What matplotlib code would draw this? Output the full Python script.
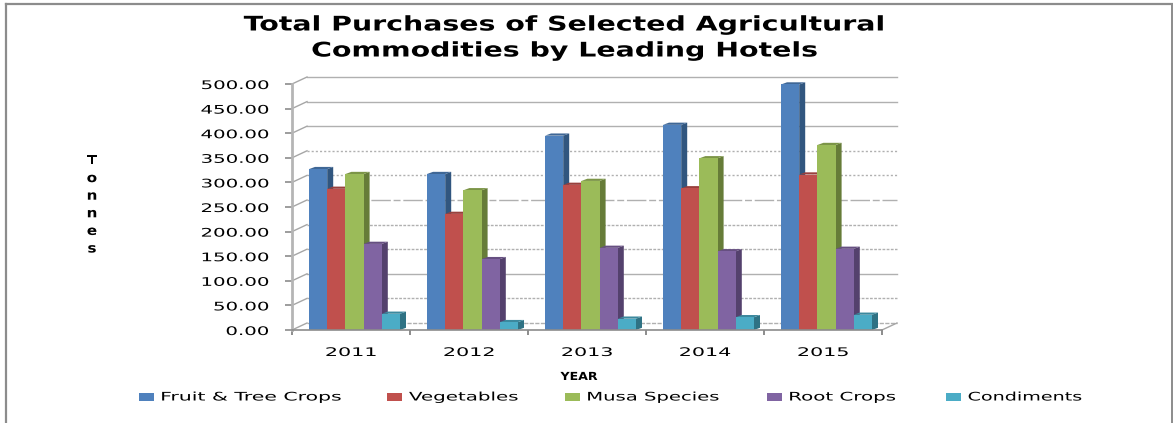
import numpy as np
import matplotlib
matplotlib.use("Agg")
import matplotlib.pyplot as plt
from matplotlib.patches import Polygon, Rectangle
from matplotlib.lines import Line2D
from matplotlib.patheffects import AbstractPathEffect
from matplotlib.transforms import Affine2D

W, H = 1173, 423

years = ["2011", "2012", "2013", "2014", "2015"]
series_names = ["Fruit & Tree Crops", "Vegetables", "Musa Species", "Root Crops", "Condiments"]
fruit = [327, 317, 395, 417, 499]
vegetables = [287, 236, 295, 288, 316]
musa = [317, 284, 303, 349, 376]
root = [175, 144, 167, 160, 165]
condiments = [33, 16, 23, 26, 31]
yticks = [0, 50, 100, 150, 200, 250, 300, 350, 400, 450, 500]

front = ["#4f81bd", "#c0504d", "#9bbb59", "#8064a2", "#4bacc6"]
side = ["#31567f", "#7f3331", "#667c38", "#54416d", "#2f7284"]
top = ["#3f6796", "#99403d", "#7c9547", "#664f81", "#3c899e"]

# grid styles as they came out of the scaled picture
grid_styles = {0: (0, (3, 1)), 50: (0, (2, 1)), 100: "-", 150: (0, (2, 1)), 200: (0, (2, 1)),
               250: (0, (14, 2, 5, 2)), 300: (0, (1.5, 1.5)), 350: (0, (1.5, 1.5)),
               400: "-", 450: "-", 500: "-"}


# the original picture was pasted in stretched sideways, text included
class Stretch(AbstractPathEffect):
    def __init__(self, sx, anchor="center"):
        super().__init__()
        self.sx = sx
        self.anchor = anchor

    def draw_path(self, renderer, gc, tpath, affine, rgbFace=None):
        box = tpath.transformed(affine).get_extents()
        px = {"left": box.x0, "right": box.x1, "center": (box.x0 + box.x1) / 2}[self.anchor]
        t = affine + Affine2D().translate(-px, 0).scale(self.sx, 1).translate(px, 0)
        renderer.draw_path(gc, tpath, t, rgbFace)


fig = plt.figure(figsize=(W / 100, H / 100), dpi=100, facecolor="white")
ax = fig.add_axes([292 / W, 1 - 330 / H, 590 / W, 246 / H])
ax.set_xlim(0, 5)
ax.set_ylim(0, 500)
ax.patch.set_alpha(0)

# depth of the 3d look, in data units
dx_wall = 15 / 118
dy_wall = 7 * 500 / 246
dx_bar = 6 / 118
dy_bar = 2.2 * 500 / 246
bar_w = 18.2 / 118
y_base = 0

for v in yticks:
    ax.plot([dx_wall, 5 + dx_wall], [v + dy_wall, v + dy_wall], color="#b0b0b0", lw=1.0,
            ls=grid_styles[v], clip_on=False, zorder=1)
    ax.plot([0, dx_wall], [v, v + dy_wall], color="#a6a6a6", lw=1.0, clip_on=False, zorder=1)
ax.plot([5, 5 + dx_wall], [0, dy_wall], color="#a6a6a6", lw=1.0, clip_on=False, zorder=1)

all_series = [fruit, vegetables, musa, root, condiments]
for s, vals in enumerate(all_series):
    x = np.arange(5) + 17 / 118 + s * bar_w
    ax.bar(x, np.array(vals) - y_base, width=bar_w, bottom=y_base, align="edge",
           color=front[s], zorder=3 + s * 0.1, clip_on=False)
    for xi, v in zip(x, vals):
        ax.add_patch(Polygon([(xi + bar_w, y_base), (xi + bar_w + dx_bar, y_base + dy_bar),
                              (xi + bar_w + dx_bar, v + dy_bar), (xi + bar_w, v)],
                             color=side[s], lw=0, zorder=2.9 + s * 0.1, clip_on=False))
        ax.add_patch(Polygon([(xi, v), (xi + dx_bar, v + dy_bar),
                              (xi + bar_w + dx_bar, v + dy_bar), (xi + bar_w, v)],
                             color=top[s], lw=0, zorder=2.9 + s * 0.1, clip_on=False))

for sp in ["top", "right"]:
    ax.spines[sp].set_visible(False)
ax.spines["left"].set_color("#b5b5b5")
ax.spines["left"].set_linewidth(2.0)
ax.spines["bottom"].set_color("#8c8c8c")
ax.spines["bottom"].set_linewidth(1.2)
ax.spines["bottom"].set_zorder(5)

ax.set_yticks(yticks)
ax.set_yticklabels([f"{v:.2f}" for v in yticks], fontsize=8.5, color="black")
ax.set_xticks(range(6))
ax.set_xticklabels([])
ax.set_xticks(np.arange(5) + 0.5, minor=True)
ax.set_xticklabels(years, minor=True, fontsize=8.5, color="black")
ax.tick_params(axis="x", which="minor", length=0, pad=11.5)
ax.tick_params(axis="x", which="major", length=3.5, width=1.4, color="#8c8c8c")
ax.tick_params(axis="y", length=5, width=1.2, color="#8c8c8c", pad=12)
for lab in ax.get_yticklabels():
    lab.set_path_effects([Stretch(1.67, "right")])
for lab in ax.get_xticklabels(minor=True):
    lab.set_path_effects([Stretch(1.75)])

for txt, yp in [("Total Purchases of Selected Agricultural", 25), ("Commodities by Leading Hotels", 51)]:
    fig.text(565 / W, 1 - yp / H, txt, ha="center", va="center", fontsize=14.5, fontweight="bold",
             color="black", path_effects=[Stretch(1.41)])

fig.text(92 / W, 1 - 205 / H, "T\no\nn\nn\ne\ns", ha="center", va="center", fontsize=9.5,
         fontweight="bold", linespacing=1.46, path_effects=[Stretch(1.15)])
fig.text(579 / W, 1 - 377 / H, "YEAR", ha="center", va="center", fontsize=8, fontweight="bold",
         path_effects=[Stretch(1.13)])

legend_x = [139, 387, 565, 767, 946]
legend_sx = [1.73, 1.68, 1.66, 1.68, 1.62]
for name, lx, c, sx in zip(series_names, legend_x, front, legend_sx):
    fig.add_artist(Rectangle((lx / W, 1 - 401 / H), 15 / W, 8 / H, color=c, lw=0, transform=fig.transFigure))
    fig.text((lx + 22) / W, 1 - 397 / H, name, ha="left", va="center", fontsize=8.5, color="black",
             path_effects=[Stretch(sx, "left")])

# frame of the pasted picture
fig.add_artist(Line2D([5.5 / W, 5.5 / W], [0, 1 - 4 / H], color="#8c8c8c", lw=1.6))
fig.add_artist(Line2D([5.5 / W, 1172 / W], [1 - 4 / H, 1 - 4 / H], color="#8c8c8c", lw=1.6))
fig.add_artist(Line2D([1172 / W, 1172 / W], [0, 1 - 4 / H], color="#8c8c8c", lw=1.4))

fig.savefig("out.png", dpi=100)
